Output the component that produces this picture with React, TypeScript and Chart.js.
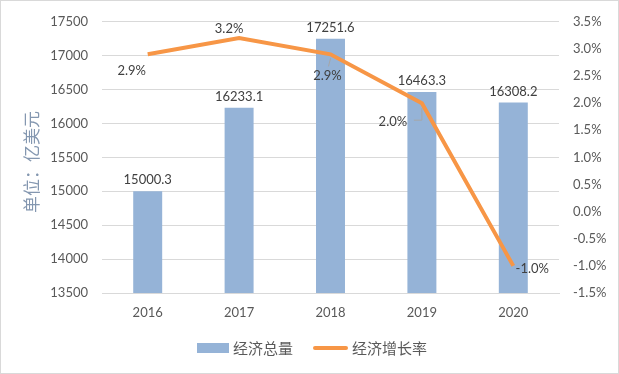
import React, { useEffect, useRef } from "react";
import { Chart, registerables } from "chart.js";

Chart.register(...registerables);

const years = ["2016", "2017", "2018", "2019", "2020"];
const totals = [15000.3, 16233.1, 17251.6, 16463.3, 16308.2];
const growth = [2.9, 3.2, 2.9, 2.0, -1.0];

const BAR_COLOR = "#95b3d7";
const LINE_COLOR = "#f79646";
const TEXT_COLOR = "#595959";
const GRID_COLOR = "#d9d9d9";
const NUM_FONT = "Lato, 'Liberation Sans', sans-serif";
const CJK_FONT = "'Noto Sans CJK SC', sans-serif";

// offsets of growth labels relative to their points (dx, dy)
const growthLabelOffsets = [
  [-16, 16],
  [-10, -9],
  [-3, 21],
  [-29, 19],
  [19, 3],
];

const decorPlugin = {
  id: "decor",
  beforeDraw(chart: any) {
    const { ctx, width, height } = chart;
    ctx.save();
    ctx.fillStyle = "#ffffff";
    ctx.fillRect(0, 0, width, height);
    ctx.restore();
  },
  afterDatasetsDraw(chart: any) {
    const { ctx } = chart;
    ctx.save();
    ctx.font = `13px ${NUM_FONT}`;
    ctx.fillStyle = "#404040";
    ctx.textAlign = "center";
    ctx.textBaseline = "middle";
    const barMeta = chart.getDatasetMeta(0);
    barMeta.data.forEach((el: any, i: number) => {
      ctx.fillText(totals[i].toFixed(1), el.x, el.y - 11);
    });
    const lineMeta = chart.getDatasetMeta(1);
    // leader lines
    ctx.strokeStyle = "#a6a6a6";
    ctx.lineWidth = 1;
    const p2 = lineMeta.data[2];
    ctx.beginPath();
    ctx.moveTo(p2.x - 2, p2.y + 12);
    ctx.lineTo(p2.x, p2.y + 4);
    ctx.stroke();
    const p3 = lineMeta.data[3];
    ctx.beginPath();
    ctx.moveTo(p3.x - 8, p3.y + 17);
    ctx.lineTo(p3.x, p3.y + 17);
    ctx.lineTo(p3.x, p3.y + 5);
    ctx.stroke();
    lineMeta.data.forEach((el: any, i: number) => {
      const [dx, dy] = growthLabelOffsets[i];
      ctx.fillText(growth[i].toFixed(1) + "%", el.x + dx, el.y + dy);
    });
    ctx.restore();
  },
  afterDraw(chart: any) {
    const { ctx, width, height } = chart;
    ctx.save();
    // axis title
    ctx.translate(32, 162);
    ctx.rotate(-Math.PI / 2);
    ctx.font = `17px ${CJK_FONT}`;
    ctx.fillStyle = "#8497b0";
    ctx.textAlign = "center";
    ctx.textBaseline = "middle";
    ctx.fillText("单位：亿美元", 0, 0);
    ctx.restore();

    // legend
    ctx.save();
    ctx.fillStyle = BAR_COLOR;
    ctx.fillRect(197, 343, 32, 10);
    ctx.font = `15px ${CJK_FONT}`;
    ctx.fillStyle = TEXT_COLOR;
    ctx.textAlign = "left";
    ctx.textBaseline = "middle";
    ctx.fillText("经济总量", 233, 348);
    ctx.strokeStyle = LINE_COLOR;
    ctx.lineWidth = 4;
    ctx.lineCap = "round";
    ctx.beginPath();
    ctx.moveTo(315, 348);
    ctx.lineTo(346, 348);
    ctx.stroke();
    ctx.fillText("经济增长率", 352, 348);

    // outer border
    ctx.strokeStyle = GRID_COLOR;
    ctx.lineWidth = 1;
    ctx.strokeRect(0.5, 0.5, width - 1, height - 1);
    ctx.restore();
  },
};

export default function App() {
  const ref = useRef<HTMLCanvasElement | null>(null);
  useEffect(() => {
    document.body.style.margin = "0";
    const canvas = ref.current!;
    const chart = new Chart(canvas, {
      type: "bar",
      data: {
        labels: years,
        datasets: [
          {
            type: "bar",
            label: "经济总量",
            data: totals,
            backgroundColor: BAR_COLOR,
            yAxisID: "y",
            barPercentage: 0.317,
            categoryPercentage: 1,
            order: 2,
          },
          {
            type: "line",
            label: "经济增长率",
            data: growth,
            borderColor: LINE_COLOR,
            backgroundColor: LINE_COLOR,
            borderWidth: 4,
            pointRadius: 0,
            tension: 0,
            yAxisID: "y1",
            order: 1,
          } as any,
        ],
      },
      options: {
        responsive: false,
        animation: false,
        devicePixelRatio: 1,
        layout: { padding: { top: 19, bottom: 46, left: 0, right: 0 } },
        plugins: {
          legend: { display: false },
          tooltip: { enabled: false },
        },
        scales: {
          x: {
            grid: { display: false, drawTicks: false },
            border: { display: true, color: GRID_COLOR },
            ticks: {
              color: TEXT_COLOR,
              font: { family: NUM_FONT, size: 13 },
              padding: 12,
            },
            afterFit(scale: any) {
              scale.height = 35;
            },
          },
          y: {
            position: "left",
            min: 13500,
            max: 17500,
            grid: { color: GRID_COLOR, drawTicks: false },
            border: { display: false },
            ticks: {
              stepSize: 500,
              color: TEXT_COLOR,
              font: { family: NUM_FONT, size: 13 },
              padding: 14,
              callback: (v: any) => String(v),
            },
            afterFit(scale: any) {
              scale.width = 102;
            },
          },
          y1: {
            position: "right",
            min: -1.5,
            max: 3.5,
            grid: { display: false, drawTicks: false },
            border: { display: false },
            ticks: {
              stepSize: 0.5,
              color: TEXT_COLOR,
              font: { family: NUM_FONT, size: 13 },
              padding: 14,
              callback: (v: any) => Number(v).toFixed(1) + "%",
            },
            afterFit(scale: any) {
              scale.width = 60;
            },
          },
        },
      },
      plugins: [decorPlugin],
    });
    return () => chart.destroy();
  }, []);
  return (
    <canvas
      ref={ref}
      width={619}
      height={374}
      style={{ display: "block", width: 619, height: 374 }}
    />
  );
}
